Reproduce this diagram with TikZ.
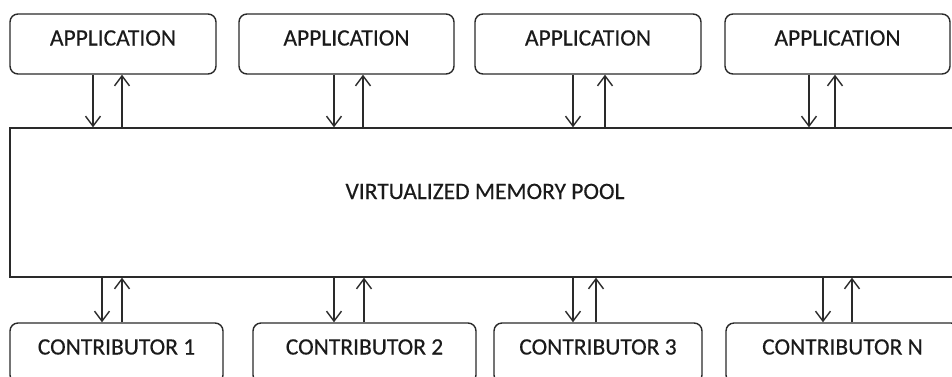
\documentclass[tikz,border=0pt]{standalone}
\usepackage{fontspec}
\setmainfont{Carlito}
\newfontfamily\boxfont[FakeBold=0.3]{Carlito}
\usetikzlibrary{arrows.meta}
\definecolor{lc}{HTML}{2A2A2A}
\definecolor{tc}{HTML}{1A1A1A}
\tikzset{
  box/.style={draw=lc, line width=1.4pt, rounded corners=8pt, minimum height=60pt,
    inner sep=0pt, text=tc, font=\boxfont\fontsize{23.5}{26}\selectfont,
    text height=15pt, text depth=12pt},
  pool/.style={draw=lc, line width=1.4pt, minimum height=149pt, minimum width=950pt,
    inner sep=0pt, text=tc, font=\boxfont\fontsize{23.5}{26}\selectfont,
    text height=15pt, text depth=22pt},
  arr/.style={draw=lc, line width=1.4pt, -{Straight Barb[length=10pt,width=15pt,line width=1.4pt]}}
}
\begin{document}
\begin{tikzpicture}[x=1pt,y=-1pt]
\clip (0,0) rectangle (952,376);
\fill[white] (0,0) rectangle (952,376);
\node[box, minimum width=206pt] (a1) at (113,44) {APPLICATION};
\node[box, minimum width=215pt] (a2) at (346.5,44) {APPLICATION};
\node[box, minimum width=226pt] (a3) at (588,44) {APPLICATION};
\node[box, minimum width=225pt] (a4) at (837.5,44) {APPLICATION};
\node[pool] (p) at (485,202.5) {VIRTUALIZED MEMORY POOL};
\node[box, minimum width=213pt] (c1) at (116.5,353) {CONTRIBUTOR 1};
\node[box, minimum width=223pt] (c2) at (364.5,353) {CONTRIBUTOR 2};
\node[box, minimum width=208pt] (c3) at (598,353) {CONTRIBUTOR 3};
\node[box, minimum width=233pt] (c4) at (842.5,353) {CONTRIBUTOR N};
% top arrow columns
\coordinate (td1) at (93,0);  \coordinate (tu1) at (122,0);
\coordinate (td2) at (334,0); \coordinate (tu2) at (363,0);
\coordinate (td3) at (573,0); \coordinate (tu3) at (605,0);
\coordinate (td4) at (809,0); \coordinate (tu4) at (835,0);
% bottom arrow columns
\coordinate (bd1) at (102,0); \coordinate (bu1) at (122,0);
\coordinate (bd2) at (334,0); \coordinate (bu2) at (364,0);
\coordinate (bd3) at (573,0); \coordinate (bu3) at (596,0);
\coordinate (bd4) at (823,0); \coordinate (bu4) at (852,0);
\foreach \i in {1,2,3,4}{
  \draw[arr] (a\i.south -| td\i) -- (p.north -| td\i);
  \draw[arr] (p.north -| tu\i) -- (a\i.south -| tu\i);
  \draw[arr] (p.south -| bd\i) -- (c\i.north -| bd\i);
  \draw[arr] (c\i.north -| bu\i) -- (p.south -| bu\i);
}
\end{tikzpicture}
\end{document}
